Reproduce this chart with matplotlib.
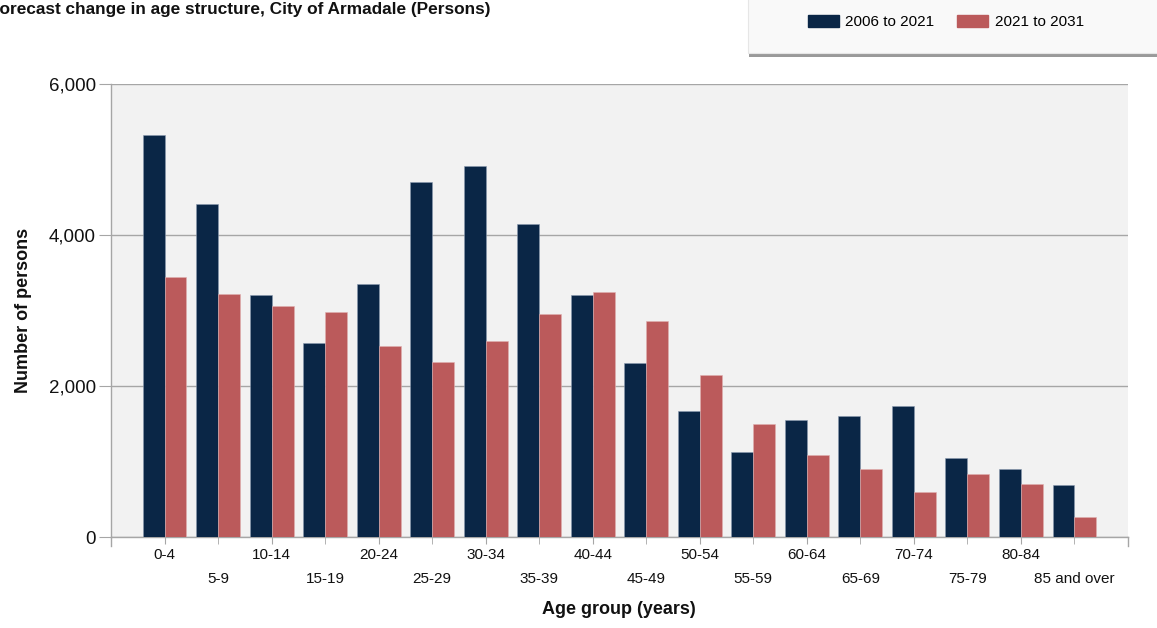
import matplotlib
matplotlib.use("Agg")
import matplotlib.pyplot as plt
from matplotlib.patches import Rectangle, Patch
import numpy as np

plt.rcParams['font.family'] = ['Liberation Sans', 'DejaVu Sans']

age_groups = ["0-4", "5-9", "10-14", "15-19", "20-24", "25-29", "30-34", "35-39",
              "40-44", "45-49", "50-54", "55-59", "60-64", "65-69", "70-74",
              "75-79", "80-84", "85 and over"]
change_2006_2021 = [5325, 4415, 3205, 2570, 3355, 4700, 4914, 4146, 3205, 2305,
                    1672, 1130, 1550, 1598, 1735, 1044, 905, 685]
change_2021_2031 = [3444, 3219, 3065, 2980, 2535, 2318, 2600, 2960, 3245, 2865,
                    2140, 1497, 1082, 895, 602, 828, 698, 265]
series_names = ["2006 to 2021", "2021 to 2031"]
yticks = [0, 2000, 4000, 6000]

navy = "#0a2646"
red = "#bb5a5b"
grid_c = "#a6a6a6"

W, H = 1157, 628
fig = plt.figure(figsize=(W/100, H/100), dpi=100)
fig.patch.set_facecolor("white")
ax = fig.add_axes([111/W, 1-537/H, (1128-111)/W, (537-84)/H])
ax.set_facecolor("#f2f2f2")

x = np.arange(len(age_groups))
bw = 0.41
ax.bar(x - bw/2, change_2006_2021, bw, color=navy, edgecolor="#8a9ab0", linewidth=0.4, zorder=3)
ax.bar(x + bw/2, change_2021_2031, bw, color=red, edgecolor="#e0b0b0", linewidth=0.4, zorder=3)

ax.set_xlim(-1, len(age_groups))
ax.set_ylim(0, 6000)
ax.set_yticks(yticks)
ax.set_yticklabels([f"{v:,}" for v in yticks], fontsize=13.5, color="#111111")
ax.yaxis.grid(True, color=grid_c, linewidth=1, zorder=1)
ax.set_axisbelow(True)

even = x[0::2]
odd = x[1::2]
ax.set_xticks(even)
ax.set_xticklabels(age_groups[0::2], fontsize=11, color="#111111")
ax.set_xticks(odd, minor=True)
ax.set_xticklabels(age_groups[1::2], minor=True, fontsize=11, color="#111111")
ax.tick_params(axis='x', which='major', length=5, pad=3, color=grid_c)
ax.tick_params(axis='x', which='minor', length=5, pad=20, color=grid_c)
ax.tick_params(axis='y', length=9, pad=2, color=grid_c)

for s in ["top", "right"]:
    ax.spines[s].set_visible(False)
for s in ["left", "bottom"]:
    ax.spines[s].set_color(grid_c)
    ax.spines[s].set_linewidth(1)

# extra edge ticks
ax.plot([-1, -1], [0, -120], color=grid_c, lw=1, clip_on=False)
ax.plot([len(age_groups), len(age_groups)], [0, -120], color=grid_c, lw=1, clip_on=False)

# title (cropped at left, as in the reference)
fig.text(-11/W, 1-14/H, "Forecast change in age structure, City of Armadale (Persons)",
         fontsize=12.4, fontweight="bold", color="#111111", va="baseline", ha="left")

# axis labels
fig.text(24/W, 1-310/H, "Number of persons", rotation=90, fontsize=13, fontweight="bold",
         ha="center", va="center", color="#111111")
fig.text(619/W, 1-609/H, "Age group (years)", fontsize=13, fontweight="bold",
         ha="center", va="center", color="#111111")

# legend box with shadow
shadow = Rectangle((749/W, 1-57/H), (W-749)/W + 0.01, 60/H, transform=fig.transFigure,
                   facecolor="#9a9a9a", edgecolor="none", zorder=0)
box = Rectangle((748/W, 1-53/H), (W-748)/W + 0.01, 60/H, transform=fig.transFigure,
                facecolor="#f9f9f9", edgecolor="#e6e6e6", lw=0.8, zorder=0.5)
fig.patches.extend([shadow, box])
handles = [Patch(facecolor=navy, edgecolor=navy), Patch(facecolor=red, edgecolor=red)]
fig.legend(handles, series_names, loc="center", bbox_to_anchor=(946/W, 1-22/H), ncol=2,
           frameon=False, fontsize=11, handlelength=2.0, handleheight=0.9,
           handletextpad=0.45, columnspacing=1.5)

fig.savefig("out.png", dpi=100)
